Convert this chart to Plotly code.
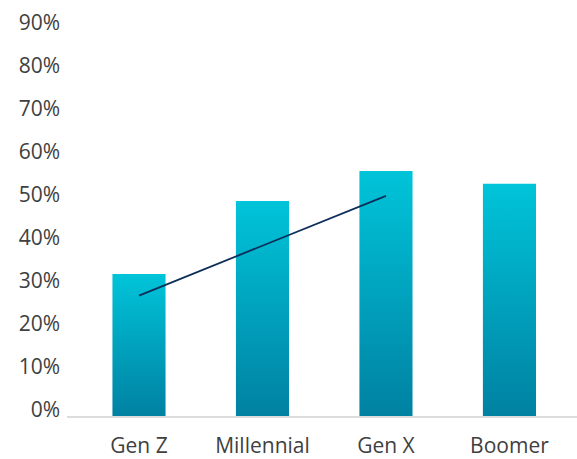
import plotly.graph_objects as go

categories = ["Gen Z", "Millennial", "Gen X", "Boomer"]
bar_values = [0.33, 0.50, 0.57, 0.54]
trend_x = ["Gen Z", "Gen X"]
trend_values = [0.28, 0.512]
y_ticks = [0, 0.1, 0.2, 0.3, 0.4, 0.5, 0.6, 0.7, 0.8, 0.9]

BAR_W = 0.43
fig = go.Figure()
for i, (cat, v) in enumerate(zip(categories, bar_values)):
    fig.add_trace(go.Scatter(
        x=[i - BAR_W / 2, i + BAR_W / 2, i + BAR_W / 2, i - BAR_W / 2, i - BAR_W / 2],
        y=[0, 0, v, v, 0],
        mode="lines", line=dict(width=0), fill="toself",
        fillgradient=dict(type="vertical",
                          colorscale=[[0, "#0081a2"], [1, "#00c4d9"]]),
        hoverinfo="skip", showlegend=False, name=cat,
    ))

fig.add_trace(go.Scatter(
    x=[categories.index(c) for c in trend_x], y=trend_values,
    mode="lines", line=dict(color="#0c2f5a", width=1.8),
    showlegend=False, hoverinfo="skip",
))

font = dict(family="Open Sans", size=21, color="#404040")
fig.update_layout(
    width=577, height=459,
    margin=dict(l=67, r=0, t=29, b=43),
    paper_bgcolor="white", plot_bgcolor="white",
    font=font,
    xaxis=dict(range=[-0.583, 3.547], tickvals=list(range(len(categories))),
               ticktext=categories, showgrid=False, zeroline=False,
               showline=True, linecolor="#dcdcdc", linewidth=2,
               ticks="", ticklabelstandoff=10, tickfont=font, fixedrange=True,
               automargin=False),
    yaxis=dict(range=[0, 0.9], tickvals=y_ticks,
               ticktext=[f"{int(round(t*100))}%" for t in y_ticks],
               showgrid=False, zeroline=False, showline=False, ticks="",
               ticklabelshift=-6, ticklabelstandoff=6, tickfont=font, fixedrange=True,
               automargin=False),
)

fig.write_html("out.html")
